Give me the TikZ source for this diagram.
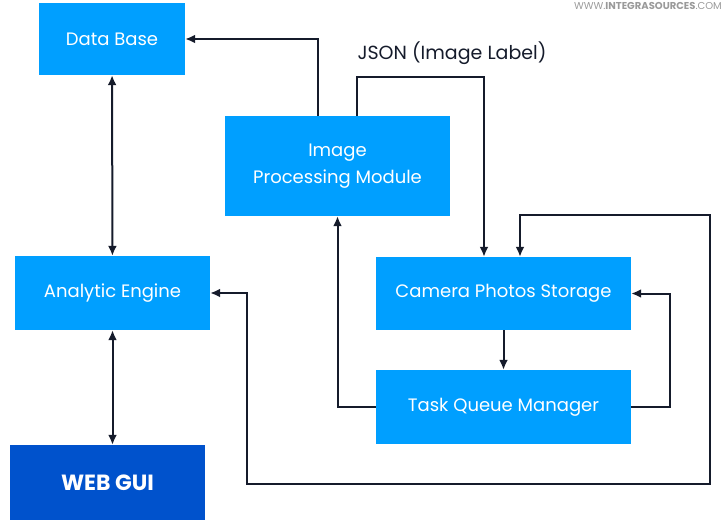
\documentclass[tikz,border=0pt]{standalone}
\usepackage{fontspec}
\setmainfont{Poppins}
\usetikzlibrary{arrows.meta}
\definecolor{boxblue}{HTML}{009FFF}
\definecolor{guiblue}{HTML}{0052CC}
\definecolor{wirecol}{HTML}{151B2B}
\definecolor{markgray}{HTML}{9A9A9A}

\begin{document}
\begin{tikzpicture}[x=1pt,y=-1pt,
  box/.style={fill=boxblue,text=white,font=\fontsize{18}{27}\selectfont,align=center,inner sep=0pt},
  wire/.style={draw=wirecol,line width=2pt,-{Latex[length=10pt,width=9pt]}},
  bothwire/.style={wire,{Latex[length=10pt,width=9pt]}-{Latex[length=10pt,width=9pt]}}]
\useasboundingbox (0,0) rectangle (725,520);
\node[box,minimum width=146pt,minimum height=72pt] (db) at (112,39) {Data Base};
\node[box,minimum width=225pt,minimum height=100pt] (ipm) at (337.5,166) {Image\\Processing Module};
\node[box,minimum width=195pt,minimum height=74pt] (ae) at (112.5,293) {Analytic Engine};
\node[box,minimum width=255pt,minimum height=73pt] (cps) at (503.5,293.5) {Camera Photos Storage};
\node[box,minimum width=255pt,minimum height=74pt] (tqm) at (503.5,407) {Task Queue Manager};
\node[box,fill=guiblue,font=\fontsize{22}{26}\selectfont\bfseries,minimum width=195pt,minimum height=75pt] (gui) at (107.5,482.5) {WEB GUI};
\node[anchor=north east,inner sep=0pt,text=markgray,font=\fontsize{10}{12}\selectfont] (mark) at (722,2) {WWW.\textbf{INTEGRASOURCES}.COM};
\node[inner sep=0pt,text=wirecol,font=\fontsize{19}{23}\selectfont] (json) at (452,53) {JSON (Image Label)};
\coordinate (loopA) at (247,484);
\coordinate (loopB) at (710,215);
% links
\draw[wire] ([xshift=-19.5pt]ipm.north) |- (db.east);
\draw[wire] ([xshift=19.5pt]ipm.north) -- ++(0,-39) -| ([xshift=-19.5pt]cps.north);
\draw[bothwire] (db) -- (ae);
\draw[bothwire] (ae.south) -- (ae.south |- gui.north);
\draw[wire] (cps) -- (tqm);
\draw[wire] (tqm.west) -| (ipm.south);
\draw[wire] (tqm.east) -- ++(39,0) |- (cps.east);
\draw[bothwire] (ae.east) -| (loopA) -| (loopB) -| ([xshift=16.5pt]cps.north);
\end{tikzpicture}
\end{document}
